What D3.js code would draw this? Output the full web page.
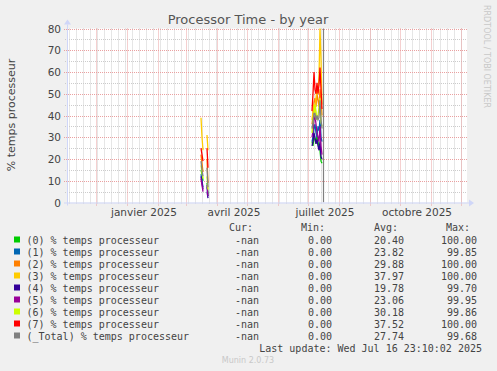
<!DOCTYPE html>
<html>
<head>
<meta charset="utf-8">
<script src="https://cdn.jsdelivr.net/npm/d3@7"></script>
<style>
  body { margin: 0; background: #f0f0f0; }
  svg { display: block; }
</style>
</head>
<body>
<svg id="chart" width="497" height="371"></svg>
<script>
// ---- data ----
var dates = ["2025-03-16", "2025-03-17", "2025-03-18", "2025-03-20",
             "2025-03-22", "2025-03-23", "2025-03-25",
             "2025-07-05", "2025-07-06", "2025-07-07", "2025-07-08", "2025-07-09", "2025-07-10",
             "2025-07-11", "2025-07-12", "2025-07-13", "2025-07-14", "2025-07-15"]

var cpu0 = [15, 13, 10, null, 9, 4, null, 28, 26, 30, 29, 27, 31, 28, 25, 24, 19, 18]
var cpu1 = [13, 10, 7, null, 7, 3, null, 28, 30, 34, 36, 32, 30, 35, 33, 38, 30, 28]
var cpu2 = [22, 18, 14, null, 20, 9, null, 36, 40, 46, 48, 44, 50, 47, 44, 52, 48, 40]
var cpu3 = [39, 30, 24, null, 31, 24, null, 38, 42, 45, 40, 48, 52, 50, 58, 80, 66, 45]
var cpu4 = [12, 9, 6, null, 5, 2, null, 26, 28, 32, 30, 27, 29, 26, 24, 28, 21, 20]
var cpu5 = [11, 8, 5, null, 8, 3, null, 30, 33, 38, 40, 36, 32, 30, 28, 35, 26, 22]
var cpu6 = [17, 14, 11, null, 12, 6, null, 32, 38, 40, 45, 42, 38, 40, 44, 48, 37, 35]
var cpu7 = [25, 22, 19, null, 25, 16, null, 42, 50, 60, 52, 50, 55, 50, 54, 62, 52, 43]
var total = [19, 15, 12, null, 16, 7, null, 34, 37, 41, 41, 38, 40, 38, 39, 47, 38, 34]

var names = ["(0) % temps processeur", "(1) % temps processeur", "(2) % temps processeur",
             "(3) % temps processeur", "(4) % temps processeur", "(5) % temps processeur",
             "(6) % temps processeur", "(7) % temps processeur", "(_Total) % temps processeur"]
var colors = ["#00cc00", "#0066b3", "#ff8000", "#ffcc00", "#330099", "#990099", "#ccff00", "#ff0000", "#808080"]
var curVals = ["-nan", "-nan", "-nan", "-nan", "-nan", "-nan", "-nan", "-nan", "-nan"]
var minVals = ["0.00", "0.00", "0.00", "0.00", "0.00", "0.00", "0.00", "0.00", "0.00"]
var avgVals = ["20.40", "23.82", "29.88", "37.97", "19.78", "23.06", "30.18", "37.52", "27.74"]
var maxVals = ["100.00", "99.85", "100.00", "100.00", "99.70", "99.95", "99.86", "100.00", "99.68"]

var yTicks = [0, 10, 20, 30, 40, 50, 60, 70, 80]
var monthLabels = ["janvier 2025", "avril 2025", "juillet 2025", "octobre 2025"]
var monthLabelDates = ["2025-01-01", "2025-04-01", "2025-07-01", "2025-10-01"]
var startDate = "2024-11-02", endDate = "2025-12-07"
var nowDate = "2025-07-16"
var lastUpdate = "Last update: Wed Jul 16 23:10:02 2025"

var series = [cpu0, cpu1, cpu2, cpu3, cpu4, cpu5, cpu6, cpu7, total]

// ---- layout ----
var pL = 67, pR = 467, pT = 28.5, pB = 202.5
var parse = d3.utcParse("%Y-%m-%d")
var svg = d3.select("#chart")

var x = d3.scaleUtc().domain([parse(startDate), parse(endDate)]).range([pL, pR])
var y = d3.scaleLinear().domain([0, 80]).range([pB, pT])
var px = d => Math.round(x(d)) + 0.5
var py = d => Math.round(y(d)) + 0.5

var grid = svg.append("g")
// plot background
grid.append("rect").attr("x", pL).attr("y", pT).attr("width", pR - pL).attr("height", pB - pT).attr("fill", "#fff")

// minor grid
var weeks = d3.utcMonday.range(parse(startDate), parse(endDate))
grid.selectAll(".vmin").data(weeks).enter().append("line")
    .attr("x1", px).attr("x2", px)
    .attr("y1", pT).attr("y2", pB + 2)
    .attr("stroke", "#cccccc").attr("stroke-dasharray", "1,1")
var halves = d3.range(5, 80, 10)
grid.selectAll(".hmin").data(halves).enter().append("line")
    .attr("x1", pL - 2).attr("x2", pR)
    .attr("y1", py).attr("y2", py)
    .attr("stroke", "#cccccc").attr("stroke-dasharray", "1,1")

// major grid
var months = d3.utcMonth.range(parse(startDate), parse(endDate))
grid.selectAll(".vmaj").data(months).enter().append("line")
    .attr("x1", px).attr("x2", px)
    .attr("y1", pT).attr("y2", pB + 3)
    .attr("stroke", "#eaa0a0").attr("stroke-dasharray", "1,1")
grid.selectAll(".hmaj").data(yTicks.slice(1)).enter().append("line")
    .attr("x1", pL - 3).attr("x2", pR)
    .attr("y1", py).attr("y2", py)
    .attr("stroke", "#eaa0a0").attr("stroke-dasharray", "1,1")

// series
svg.append("clipPath").attr("id", "clip").append("rect")
    .attr("x", pL).attr("y", pT - 1).attr("width", pR - pL).attr("height", pB - pT + 1)
var line = d3.line()
    .defined(d => d[1] != null)
    .x(d => x(parse(d[0])))
    .y(d => y(d[1]))
var plot = svg.append("g").attr("clip-path", "url(#clip)")
series.forEach(function (s, i) {
    plot.append("path")
        .attr("d", line(dates.map((d, j) => [d, s[j]])))
        .attr("fill", "none")
        .attr("stroke", colors[i])
        .attr("stroke-width", 1.3)
})
// vertical rule at last update
plot.append("line")
    .attr("x1", px(parse(nowDate))).attr("x2", px(parse(nowDate)))
    .attr("y1", pT).attr("y2", pB)
    .attr("stroke", "#808080").attr("stroke-width", 1.2)

// axes
var axisColor = "#cfd6f8"
svg.append("line").attr("x1", pL - 3).attr("x2", pR + 2).attr("y1", pB + 0.5).attr("y2", pB + 0.5).attr("stroke", axisColor)
svg.append("line").attr("x1", pL + 0.5).attr("x2", pL + 0.5).attr("y1", pB + 3).attr("y2", pT - 4).attr("stroke", axisColor)
svg.append("path").attr("d", "M" + (pR + 2) + "," + (pB - 3) + "L" + (pR + 7) + "," + (pB + 0.5) + "L" + (pR + 2) + "," + (pB + 4) + "Z").attr("fill", axisColor)
svg.append("path").attr("d", "M" + (pL - 3) + "," + (pT - 4) + "L" + (pL + 0.5) + "," + (pT - 9) + "L" + (pL + 4) + "," + (pT - 4) + "Z").attr("fill", axisColor)

// tick labels
svg.selectAll(".ylab").data(yTicks).enter().append("text")
    .attr("x", 61).attr("y", d => y(d) + 4)
    .attr("text-anchor", "end")
    .attr("font-family", "DejaVu Sans").attr("font-size", 10.5).attr("fill", "#444")
    .text(d => d)
svg.selectAll(".xlab").data(monthLabels).enter().append("text")
    .attr("x", (d, i) => x(d3.utcDay.offset(parse(monthLabelDates[i]), 15)) + 2)
    .attr("y", 216)
    .attr("text-anchor", "middle")
    .attr("font-family", "DejaVu Sans").attr("font-size", 10.5).attr("fill", "#444")
    .text(d => d)

// titles
svg.append("text").attr("x", 248).attr("y", 24).attr("text-anchor", "middle")
    .attr("font-family", "DejaVu Sans").attr("font-size", 13).attr("fill", "#555")
    .text("Processor Time - by year")
svg.append("text").attr("transform", "translate(15,115) rotate(-90)").attr("text-anchor", "middle")
    .attr("font-family", "DejaVu Sans").attr("font-size", 11).attr("fill", "#444")
    .text("% temps processeur")
svg.append("text").attr("transform", "translate(484,5) rotate(90)").attr("text-anchor", "start")
    .attr("font-family", "DejaVu Sans").attr("font-size", 8).attr("fill", "#c8c8c8")
    .text("RRDTOOL / TOBI OETIKER")

// legend
var mono = "DejaVu Sans Mono"
var hdr = [["Cur:", 253], ["Min:", 325], ["Avg:", 398], ["Max:", 470]]
svg.selectAll(".hdr").data(hdr).enter().append("text")
    .attr("x", d => d[1]).attr("y", 231)
    .attr("text-anchor", "end").attr("font-family", mono).attr("font-size", 10).attr("fill", "#444")
    .text(d => d[0])
var rows = svg.selectAll(".row").data(names).enter().append("g")
    .attr("transform", (d, i) => "translate(0," + (240 + i * 12) + ")")
rows.append("rect").attr("x", 14).attr("y", -3.5).attr("width", 6).attr("height", 6)
    .attr("fill", (d, i) => colors[i])
rows.append("text").attr("x", 26.5).attr("y", 3.5)
    .attr("font-family", mono).attr("font-size", 10).attr("fill", "#444")
    .text(d => d)
var cols = [[curVals, 259], [minVals, 332], [avgVals, 404], [maxVals, 477]]
cols.forEach(function (c) {
    rows.append("text").attr("x", c[1]).attr("y", 3.5).attr("text-anchor", "end")
        .attr("font-family", mono).attr("font-size", 10).attr("fill", "#444")
        .text((d, i) => c[0][i])
})
svg.append("text").attr("x", 482).attr("y", 351.5).attr("text-anchor", "end")
    .attr("font-family", mono).attr("font-size", 10).attr("fill", "#444")
    .text(lastUpdate)
svg.append("text").attr("x", 248).attr("y", 363).attr("text-anchor", "middle")
    .attr("font-family", "DejaVu Sans").attr("font-size", 8).attr("fill", "#c8c8c8")
    .text("Munin 2.0.73")
</script>
</body>
</html>
